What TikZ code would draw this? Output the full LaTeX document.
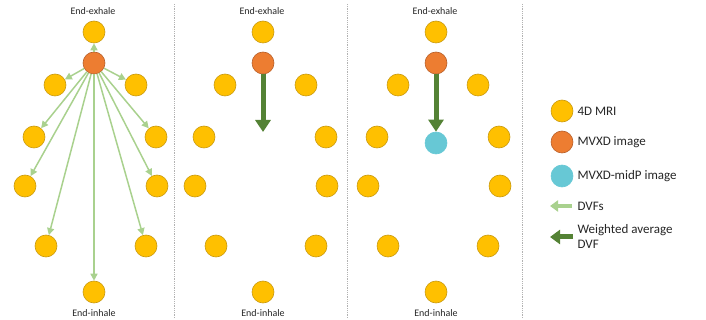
\documentclass[tikz,border=0pt]{standalone}
\usepackage{fontspec}
\setmainfont{Carlito}
\usetikzlibrary{arrows.meta}
\definecolor{mriY}{HTML}{FFC000}
\definecolor{mriYd}{HTML}{C99A10}
\definecolor{mvxO}{HTML}{ED7D31}
\definecolor{mvxOd}{HTML}{B8602A}
\definecolor{midC}{HTML}{67C8D5}
\definecolor{dvfL}{HTML}{A9D18E}
\definecolor{dvfD}{HTML}{548235}
\tikzset{
  mri/.style={circle,fill=mriY,draw=mriYd,line width=0.6pt,minimum size=22pt,inner sep=0pt},
  mvx/.style={circle,fill=mvxO,draw=mvxOd,line width=0.6pt,minimum size=22pt,inner sep=0pt},
  mid/.style={circle,fill=midC,draw=midC,line width=0.6pt,minimum size=22pt,inner sep=0pt},
  dvf/.style={draw=dvfL,line width=1.5pt,-{Triangle[length=7pt,width=7pt]}},
  wdvf/.style={draw=dvfD,line width=5pt,-{Triangle[length=12pt,width=15pt]}},
  lbl/.style={font=\fontsize{10}{11}\selectfont,text=black!85},
  leg/.style={font=\fontsize{13}{15}\selectfont,text=black!85,anchor=west,align=left},
  sep/.style={draw=gray!60,densely dotted,line width=0.8pt}
}
\begin{document}
\begin{tikzpicture}[x=1pt,y=-1pt]
\useasboundingbox (0,0) rectangle (706,320);
% separators
\coordinate (s1a) at (174,4); \coordinate (s1b) at (174,318);
\coordinate (s2a) at (347,4); \coordinate (s2b) at (347,318);
\coordinate (s3a) at (522,4); \coordinate (s3b) at (522,318);
\draw[sep] (s1a) -- (s1b);
\draw[sep] (s2a) -- (s2b);
\draw[sep] (s3a) -- (s3b);
% panel 1
\node[lbl] (t1) at (93,11) {End-exhale};
\node[lbl] (b1) at (94,313) {End-inhale};
\node[mri] (a0) at (94,32) {};
\node[mvx] (ao) at (94,63) {};
\node[mri] (a1l) at (55,85) {};
\node[mri] (a1r) at (136,85) {};
\node[mri] (a2l) at (34,137) {};
\node[mri] (a2r) at (156,137) {};
\node[mri] (a3l) at (25,186) {};
\node[mri] (a3r) at (157,186) {};
\node[mri] (a4l) at (46,246) {};
\node[mri] (a4r) at (146,246) {};
\node[mri] (a5) at (94,292) {};
\foreach \t in {a0,a1l,a1r,a2l,a2r,a3l,a3r,a4l,a4r,a5}
  \draw[dvf] (ao) -- (\t);
% panel 2
\node[lbl] (t2) at (262,11) {End-exhale};
\node[lbl] (b2) at (263,313) {End-inhale};
\node[mri] (b0) at (263,32) {};
\node[mvx] (bo) at (263,63) {};
\node[mri] (b1l) at (225,85) {};
\node[mri] (b1r) at (306,85) {};
\node[mri] (b2l) at (204,137) {};
\node[mri] (b2r) at (326,137) {};
\node[mri] (b3l) at (195,186) {};
\node[mri] (b3r) at (327,186) {};
\node[mri] (b4l) at (216,246) {};
\node[mri] (b4r) at (316,246) {};
\node[mri] (b5) at (263,292) {};
\coordinate (bend) at (263,132);
\draw[wdvf] (bo) -- (bend);
% panel 3
\node[lbl] (t3) at (435,11) {End-exhale};
\node[lbl] (b3) at (436,313) {End-inhale};
\node[mri] (c0) at (436,32) {};
\node[mvx] (co) at (436,63) {};
\node[mri] (c1l) at (398,85) {};
\node[mri] (c1r) at (478,85) {};
\node[mri] (c2l) at (377,137) {};
\node[mri] (c2r) at (499,137) {};
\node[mri] (c3l) at (368,186) {};
\node[mri] (c3r) at (500,186) {};
\node[mri] (c4l) at (388,246) {};
\node[mri] (c4r) at (488,246) {};
\node[mri] (c5) at (436,292) {};
\node[mid] (cm) at (436,143) {};
\draw[wdvf] (co) -- (cm);
% legend
\node[mri] (l1) at (562,111) {};
\node[leg] (l1t) at (574,111) {4D MRI};
\node[mvx] (l2) at (562,142) {};
\node[leg] (l2t) at (574,142) {MVXD image};
\node[mid] (l3) at (562,176) {};
\node[leg] (l3t) at (574,176) {MVXD-midP image};
\coordinate (l4a) at (572,206); \coordinate (l4b) at (550,206);
\draw[draw=dvfL,line width=3.5pt,-{Triangle[length=8pt,width=11pt]}] (l4a) -- (l4b);
\node[leg] (l4t) at (574,206) {DVFs};
\coordinate (l5a) at (573,237); \coordinate (l5b) at (550,237);
\draw[draw=dvfD,line width=5pt,-{Triangle[length=10pt,width=14pt]}] (l5a) -- (l5b);
\node[leg] (l5t) at (574,236) {Weighted average\\DVF};
\end{tikzpicture}
\end{document}
